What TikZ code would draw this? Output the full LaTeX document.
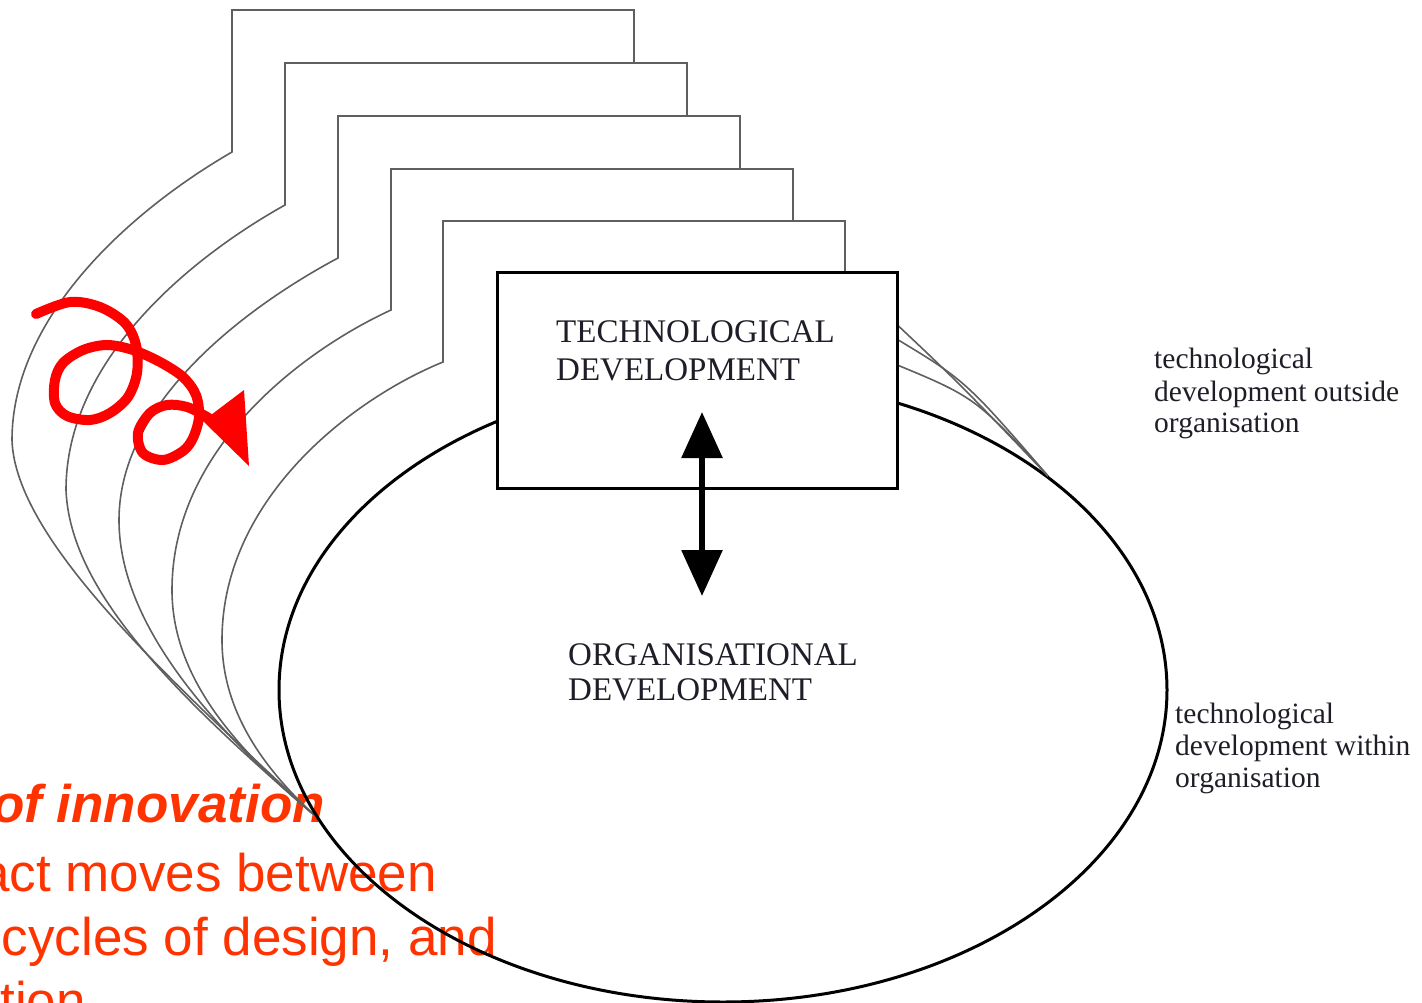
\documentclass[tikz,border=0pt]{standalone}
\usepackage{fontspec}
\setmainfont{Liberation Serif}
\newfontfamily\slidefont{Liberation Sans}
\usetikzlibrary{arrows.meta}
\definecolor{layerline}{RGB}{95,95,95}
\definecolor{slidered}{RGB}{255,51,0}
\definecolor{penred}{RGB}{255,0,0}
\definecolor{labelink}{RGB}{30,30,40}
\tikzset{bigtip/.tip={Triangle[length=46pt 0, width=40pt 0]}}
\begin{document}
\begin{tikzpicture}[x=1pt,y=-1pt,
  layer/.style={draw=layerline, line width=1.6pt, line join=miter},
  layerfill/.style={fill=white},
  mainline/.style={draw=black, line width=3pt},
  boxlabel/.style={font=\fontsize{33}{38}\selectfont, anchor=base west, inner sep=0pt, text=labelink},
  sidelabel/.style={font=\fontsize{29.5}{32}\selectfont, anchor=base west, inner sep=0pt, text=labelink},
  slidetext/.style={font=\slidefont\fontsize{53}{66}\selectfont, text=slidered, anchor=base east, inner sep=0pt},
  pen/.style={draw=penred, line width=10pt, line cap=round, line join=round}]
\useasboundingbox (0,0) rectangle (1422,1002);
\clip (0,0) rectangle (1422,1002);

% slide text running behind the figure
\node[slidetext, font=\slidefont\bfseries\itshape\fontsize{53}{66}\selectfont] (cyc1) at (325,822) {of innovation};
\node[slidetext] (cyc2) at (437,891) {act moves between};
\node[slidetext] (cyc3) at (497,955) {cycles of design, and};
\node[slidetext] (cyc4) at (86,1019) {tion};

% point where the earlier layers fold into the ellipse
\coordinate (fold) at (313,814);

% stacked earlier layers, back to front
\fill[layerfill] (232,10) rectangle (634,226);
\draw[layer] (fold) .. controls (170,680) and (15,540) .. (12,440)
  .. controls (12,320) and (125,214) .. (232,152) -- (232,10) -- (634,10) -- (634,226);

\fill[layerfill] (285,63) rectangle (687,279);
\draw[layer] (fold) .. controls (172,692) and (70,590) .. (66,490)
  .. controls (66,360) and (190,258) .. (285,205) -- (285,63) -- (687,63) -- (687,279);

\fill[layerfill] (338,116) rectangle (740,332);
\draw[layer] (fold) .. controls (205,722) and (119,620) .. (119,520)
  .. controls (119,400) and (250,305) .. (338,258) -- (338,116) -- (740,116) -- (740,332);

\fill[layerfill] (391,169) rectangle (793,385);
\draw[layer] (fold) .. controls (240,752) and (172,680) .. (172,590)
  .. controls (172,450) and (300,352) .. (391,310) -- (391,169) -- (793,169) -- (793,385);

\fill[layerfill] (443,221) rectangle (845,437);
\draw[layer] (fold) .. controls (275,778) and (222,720) .. (222,640)
  .. controls (222,500) and (350,400) .. (443,362) -- (443,221) -- (845,221) -- (845,437);

% organisation ellipse
\draw[mainline] (723,690) ellipse [x radius=444, y radius=312];

% outer technology edges joining the ellipse on the right
\coordinate (join) at (1048,476);
\draw[layer] (890,318) .. controls (960,384) .. (join);
\draw[layer] (890,335) .. controls (965,380) .. (join);
\draw[layer] (890,362) .. controls (975,397) .. (join);

% technological development box
\node[mainline, fill=white, minimum width=400pt, minimum height=216pt, inner sep=0pt] (tech) at (697,380) {};
\node[boxlabel] (techA) at (556,342) {TECHNOLOGICAL};
\node[boxlabel] (techB) at (556,380) {DEVELOPMENT};
\node[boxlabel] (orgA) at (568,665) {ORGANISATIONAL};
\node[boxlabel] (orgB) at (568,700) {DEVELOPMENT};

% two-way link between the levels
\coordinate (arrtop) at (702,412);
\coordinate (arrbot) at (702,596);
\draw[line width=6pt, bigtip-bigtip] (arrtop) -- (arrbot);

% side labels
\node[sidelabel] (outA) at (1154,368) {technological};
\node[sidelabel] (outB) at (1154,401) {development outside};
\node[sidelabel] (outC) at (1154,432) {organisation};
\node[sidelabel] (inA) at (1175,723) {technological};
\node[sidelabel] (inB) at (1175,755) {development within};
\node[sidelabel] (inC) at (1175,787) {organisation};

% hand-drawn cycling arrow
\draw[pen] plot[smooth,tension=0.55] coordinates {(36,314) (70,302) (100,307) (125,323) (136,345) (137,373) (128,397) (110,413) (90,420) (67,416) (55,403) (55,380) (63,363) (83,350) (107,345) (133,350) (160,362) (183,377) (196,395) (199,417) (193,438) (183,451) (163,460) (143,453) (138,433) (150,413) (167,405) (187,407) (207,417) (224,428)};
\fill[penred] (244,390) -- (249,466) -- (203,421) -- cycle;
\end{tikzpicture}
\end{document}
